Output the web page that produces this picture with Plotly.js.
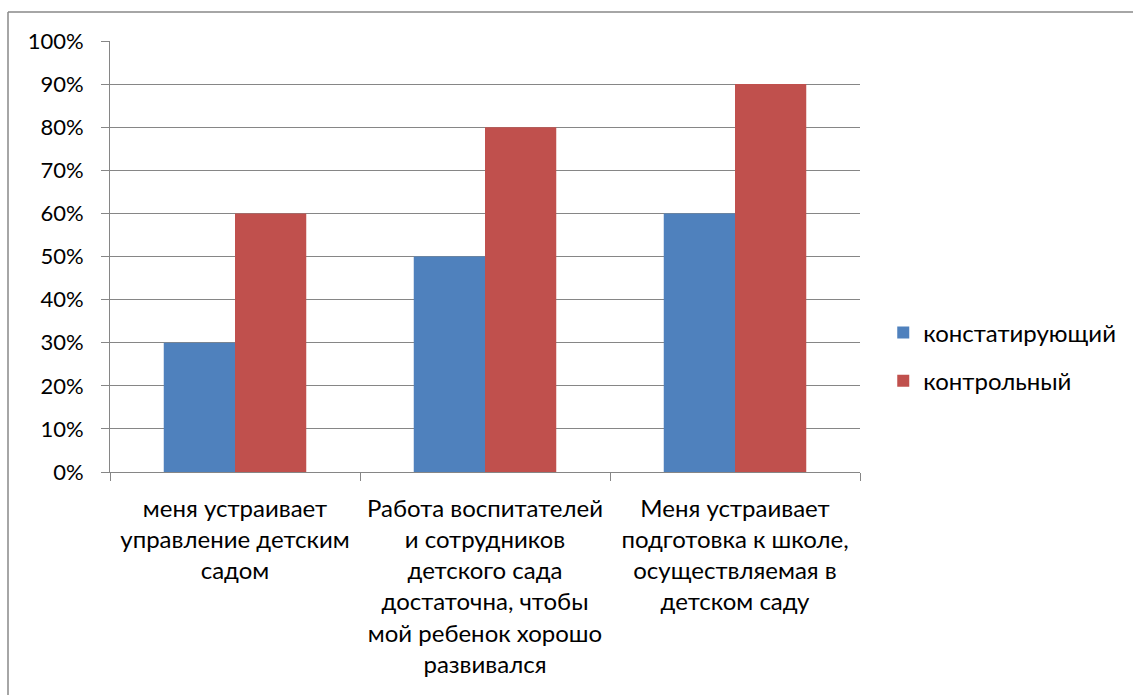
<!DOCTYPE html>
<html><head><meta charset="utf-8">
<script src="https://cdn.plot.ly/plotly-3.0.1.min.js"></script>
<style>html,body{margin:0;padding:0;background:#fff;}#chart{width:1133px;height:695px;}</style>
</head><body><div id="chart"></div>
<script>
const categories = [
  "меня устраивает<br>управление детским<br>садом",
  "Работа воспитателей<br>и сотрудников<br>детского сада<br>достаточна, чтобы<br>мой ребенок хорошо<br>развивался",
  "Меня устраивает<br>подготовка к школе,<br>осуществляемая в<br>детском саду"
];
const seriesNames = ["констатирующий", "контрольный"];
const constatValues = [0.30, 0.50, 0.60];
const controlValues = [0.60, 0.80, 0.90];

const fam = "Lato, 'Open Sans', sans-serif";
const xFont = {family: fam, size: 24, color: "#000"};
const yFont = {family: fam, size: 22, color: "#000"};
const legFont = {family: fam, size: 24, color: "#000"};
const grid = "#868686";

const traces = [
  {type: "bar", name: seriesNames[0], x: categories, y: constatValues, marker: {color: "#4F81BD"}, legendgroup: "a"},
  {type: "bar", name: seriesNames[1], x: categories, y: controlValues, marker: {color: "#C0504D"}, legendgroup: "b"}
];

const layout = {
  width: 1133, height: 695,
  margin: {l: 110, r: 273, t: 41, b: 223, autoexpand: false},
  paper_bgcolor: "#fff", plot_bgcolor: "#fff",
  font: xFont,
  barmode: "group", bargap: 0.43, bargroupgap: 0,
  showlegend: true,
  legend: {x: 1.031, xanchor: "left", y: 0.267, yanchor: "middle", font: legFont,
           traceorder: "grouped", tracegroupgap: 14, itemwidth: 30},
  xaxis: {type: "category", showline: true, linecolor: grid, linewidth: 1,
          ticks: "outside", ticklen: 8, tickcolor: grid, tickson: "boundaries",
          showgrid: false, tickfont: xFont, automargin: false, ticklabelstandoff: 15},
  yaxis: {range: [0, 1], dtick: 0.1, tickformat: ".0%", showline: true, linecolor: grid, linewidth: 1,
          ticks: "outside", ticklen: 8, tickcolor: grid, showgrid: true, gridcolor: grid, gridwidth: 1,
          zeroline: false, tickfont: yFont, automargin: false, ticklabelstandoff: 13},
  shapes: [
    {type: "line", xref: "paper", yref: "paper", x0: -0.136, x1: -0.136, y0: -1, y1: 1.067, line: {color: "#888", width: 1.5}},
    {type: "line", xref: "paper", yref: "paper", x0: -0.136, x1: 1.5, y0: 1.067, y1: 1.067, line: {color: "#888", width: 1.5}}
  ]
};
Plotly.newPlot("chart", traces, layout, {displayModeBar: false, responsive: false});
</script></body></html>
